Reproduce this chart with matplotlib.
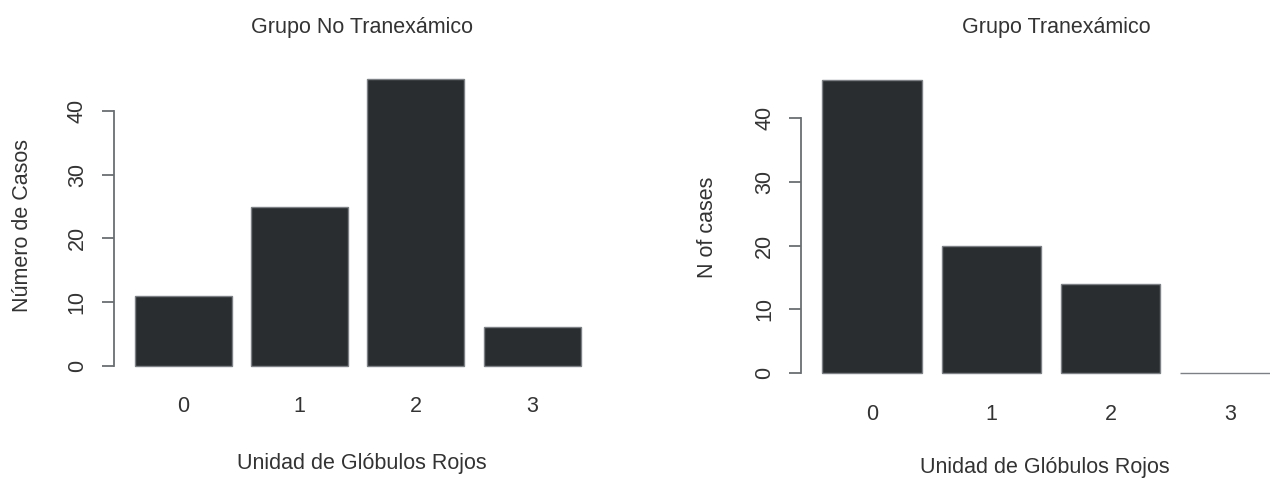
import numpy as np
import matplotlib
matplotlib.use('Agg')
import matplotlib.pyplot as plt

# Datos
unidades = ['0', '1', '2', '3']
casos_no_tranex = [11, 25, 45, 6]
casos_tranex = [46, 20, 14, 0]

plt.rcParams['font.family'] = ['Liberation Sans', 'DejaVu Sans']

W, H = 1270, 478
fig = plt.figure(figsize=(W / 100, H / 100), dpi=100)

bar_color = '#2a2d30'
text_color = '#333333'
axis_color = '#6a6e72'
fs = 15.5


# R style barplot: bars of width 1 with space 0.2, axes placed by pixel positions
def add_panel(values, cx0, xscale, y0, yscale):
    ymax = max(values)
    xlo, xhi = -0.016, 4.984
    ylo, yhi = -0.04 * ymax, 1.04 * ymax
    left = cx0 + (xlo - 0.7) * xscale
    right = cx0 + (xhi - 0.7) * xscale
    bottom = y0 - ylo * yscale
    top = y0 - yhi * yscale
    ax = fig.add_axes([left / W, 1 - bottom / H, (right - left) / W, (bottom - top) / H])
    x = 0.7 + 1.2 * np.arange(len(values))
    ax.bar(x, values, width=1.0, color=bar_color, edgecolor='#7d8185', linewidth=1.0)
    ax.set_xlim(xlo, xhi)
    ax.set_ylim(ylo, yhi)
    for s in ['top', 'right', 'bottom']:
        ax.spines[s].set_visible(False)
    ax.spines['left'].set_bounds(0, 40)
    ax.spines['left'].set_color(axis_color)
    ax.spines['left'].set_linewidth(1.3)
    ax.set_yticks([0, 10, 20, 30, 40])
    ax.tick_params(axis='y', direction='out', length=8.5, width=1.3, color=axis_color,
                   labelsize=fs, labelcolor=text_color, pad=10)
    for lab in ax.get_yticklabels():
        lab.set_rotation(90)
        lab.set_va('center')
    ax.set_xticks(x)
    ax.set_xticklabels(unidades)
    ax.tick_params(axis='x', length=0, labelsize=fs, labelcolor=text_color, pad=14)
    return ax


ax1 = add_panel(casos_no_tranex, 183, 97, 365.5, 6.36)
ax2 = add_panel(casos_tranex, 872, 99.4, 373, 6.375)


def ftext(px, py, s, **kw):
    fig.text(px / W, 1 - py / H, s, ha='center', va='center', color=text_color, fontsize=fs, **kw)


ftext(362, 27, 'Grupo No Tranexámico')
ftext(1056, 27, 'Grupo Tranexámico')
ftext(23, 226, 'Número de Casos', rotation=90)
ftext(707, 227, 'N of cases', rotation=90)
ftext(362, 463, 'Unidad de Glóbulos Rojos')
ftext(1045, 467, 'Unidad de Glóbulos Rojos')

fig.savefig('out.png', dpi=100)
